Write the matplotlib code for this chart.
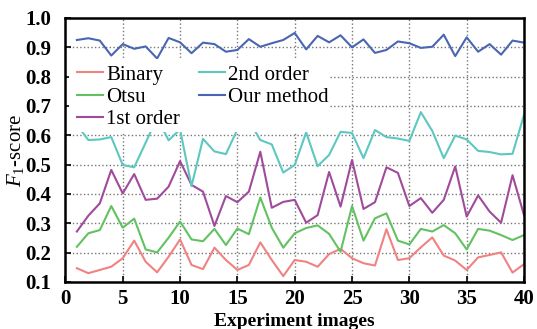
import matplotlib
matplotlib.use('Agg')
import matplotlib.pyplot as plt
from matplotlib.patches import Rectangle

# experiment index
images = list(range(1, 41))

binary = [0.147, 0.130, 0.141, 0.152, 0.181, 0.241, 0.169, 0.133, 0.186, 0.245,
          0.158, 0.144, 0.217, 0.175, 0.141, 0.158, 0.235, 0.175, 0.120, 0.175,
          0.169, 0.152, 0.195, 0.213, 0.181, 0.164, 0.156, 0.280, 0.175, 0.181,
          0.218, 0.252, 0.190, 0.173, 0.141, 0.184, 0.192, 0.201, 0.132, 0.161]

otsu = [0.220, 0.266, 0.277, 0.359, 0.285, 0.316, 0.211, 0.201, 0.251, 0.306,
        0.245, 0.239, 0.281, 0.226, 0.282, 0.263, 0.388, 0.285, 0.217, 0.266,
        0.284, 0.293, 0.264, 0.203, 0.359, 0.241, 0.317, 0.334, 0.241, 0.228,
        0.281, 0.272, 0.294, 0.266, 0.211, 0.281, 0.275, 0.260, 0.243, 0.260]

first_order = [0.272, 0.326, 0.368, 0.482, 0.402, 0.468, 0.380, 0.384, 0.425, 0.512,
               0.431, 0.408, 0.291, 0.393, 0.372, 0.408, 0.544, 0.353, 0.373, 0.380,
               0.302, 0.328, 0.475, 0.357, 0.516, 0.349, 0.372, 0.491, 0.472, 0.359,
               0.386, 0.336, 0.380, 0.494, 0.323, 0.395, 0.340, 0.302, 0.464, 0.328]

second_order = [0.636, 0.584, 0.586, 0.594, 0.499, 0.491, 0.575, 0.660, 0.583, 0.620,
                0.427, 0.588, 0.545, 0.536, 0.620, 0.650, 0.584, 0.569, 0.473, 0.499,
                0.610, 0.495, 0.533, 0.612, 0.608, 0.522, 0.618, 0.594, 0.589, 0.581,
                0.679, 0.615, 0.522, 0.599, 0.586, 0.547, 0.543, 0.535, 0.537, 0.670]

our_method = [0.925, 0.931, 0.923, 0.872, 0.911, 0.895, 0.903, 0.862, 0.932, 0.917,
              0.880, 0.916, 0.911, 0.885, 0.891, 0.928, 0.902, 0.914, 0.925, 0.949,
              0.893, 0.939, 0.917, 0.941, 0.900, 0.927, 0.881, 0.891, 0.920, 0.914,
              0.898, 0.902, 0.943, 0.870, 0.934, 0.885, 0.911, 0.875, 0.923, 0.916]

x_ticks = [0, 5, 10, 15, 20, 25, 30, 35, 40]
y_ticks = [0.1, 0.2, 0.3, 0.4, 0.5, 0.6, 0.7, 0.8, 0.9, 1.0]

plt.rcParams['font.family'] = ['Liberation Serif', 'DejaVu Serif']
plt.rcParams['mathtext.fontset'] = 'custom'
plt.rcParams['mathtext.it'] = 'Liberation Serif:italic'
plt.rcParams['mathtext.rm'] = 'Liberation Serif'

fig = plt.figure(figsize=(5.37, 3.29), dpi=100)
ax = fig.add_axes([0.1218, 0.1429, 0.854, 0.8024])

ax.plot(images, binary, color='#f08282', lw=1.5, label='Binary', zorder=2)
ax.plot(images, otsu, color='#62c262', lw=1.5, label='Otsu', zorder=2)
ax.plot(images, first_order, color='#a04a9c', lw=1.5, label='1st order', zorder=2)
ax.plot(images, second_order, color='#5cc8c0', lw=1.5, label='2nd order', zorder=2)
ax.plot(images, our_method, color='#4a66b2', lw=1.5, label='Our method', zorder=2)

# white box behind the legend hides the lines there
ax.add_patch(Rectangle((0.008, 0.567), 0.57, 0.277, transform=ax.transAxes,
                       facecolor='white', edgecolor='none', zorder=3))

leg = ax.legend(ncol=2, loc='upper left', bbox_to_anchor=(0.025, 0.822),
                frameon=False, fontsize=15, handlelength=1.25, handletextpad=0.15,
                columnspacing=0.9, labelspacing=0.13, borderaxespad=0.0,
                borderpad=0.0)
leg.set_zorder(5)

ax.set_xlim(0, 40)
ax.set_ylim(0.1, 1.0)
ax.set_xticks(x_ticks)
ax.set_yticks(y_ticks)
ax.set_yticklabels(['%.1f' % v for v in y_ticks])
ax.grid(True, linestyle=':', color='#777777', linewidth=1.0)
ax.tick_params(direction='in', labelsize=15, width=1.2, length=4)
ax.tick_params(axis='y', pad=10)
ax.tick_params(axis='x', pad=5)
for lab in ax.get_xticklabels() + ax.get_yticklabels():
    lab.set_fontweight('bold')
for sp in ax.spines.values():
    sp.set_linewidth(1.8)

ax.set_xlabel('Experiment images', fontsize=14, fontweight='bold', labelpad=3)
ax.set_ylabel(r'$F_1$-score', fontsize=15, labelpad=0)

fig.savefig('out.png', dpi=100)
